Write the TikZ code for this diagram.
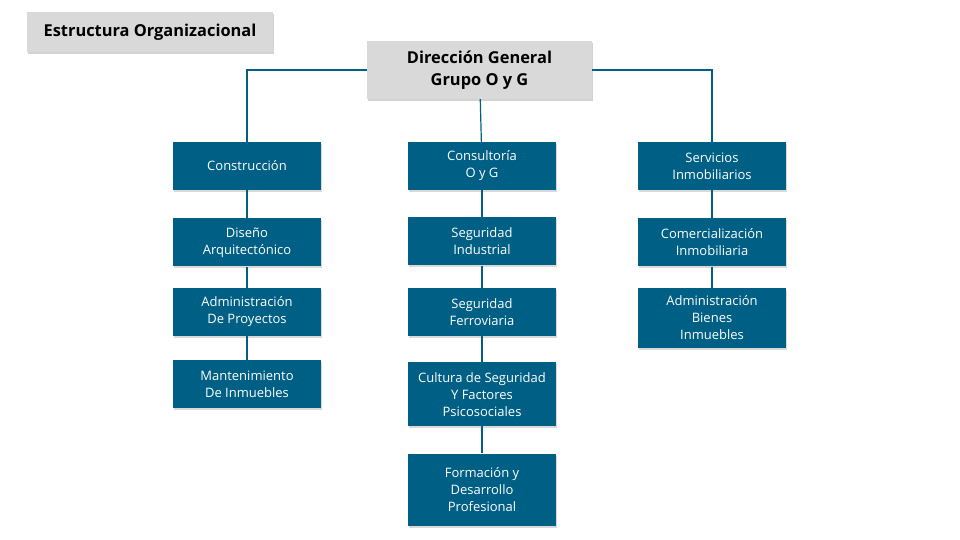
\documentclass[tikz,border=0pt]{standalone}
\usepackage{fontspec}
\setmainfont{Open Sans}
\usetikzlibrary{positioning, shadows}
\definecolor{unitblue}{RGB}{0,95,133}
\definecolor{headgray}{RGB}{217,217,217}

\begin{document}
\begin{tikzpicture}[x=1pt, y=1pt, node distance=24pt]
        \tikzstyle{header} = [rectangle, fill=headgray, text=black, align=center, font=\fontsize{16.4}{22}\selectfont\bfseries, drop shadow={shadow xshift=1pt, shadow yshift=-2pt, opacity=0.35}]
        \tikzstyle{unit} = [rectangle, minimum width=148pt, minimum height=48pt, text centered, align=center, fill=unitblue, text=white, font=\fontsize{13}{17}\selectfont, drop shadow={shadow xshift=1pt, shadow yshift=-2pt, opacity=0.3}]
        \tikzstyle{line} = [draw=unitblue, line width=1.2pt]

        \useasboundingbox (0,0) rectangle (960,-540);

        % Nodes
        \node (title) [header, minimum width=246pt, minimum height=40pt] at (150,-32) {Estructura Organizacional};
        \node (dir) [header, minimum width=225pt, minimum height=58pt] at (479.5,-70) {Dirección General\\Grupo O y G};

        % Construccion
        \node (con) [unit] at (247,-166) {Construcción};
        \node (dis) [unit, below=28pt of con] {Diseño\\Arquitectónico};
        \node (adp) [unit, below=21pt of dis] {Administración\\De Proyectos};
        \node (man) [unit, below=24pt of adp] {Mantenimiento\\De Inmuebles};

        % Consultoria
        \node (cons) [unit] at (482,-166) {Consultoría\\O y G};
        \node (sind) [unit, below=27pt of cons] {Seguridad\\Industrial};
        \node (sfer) [unit, below=22pt of sind] {Seguridad\\Ferroviaria};
        \node (cult) [unit, below=26pt of sfer, minimum height=64pt] {Cultura de Seguridad\\Y Factores\\Psicosociales};
        \node (form) [unit, below=27pt of cult, minimum height=72pt] {Formación y\\Desarrollo\\Profesional};

        % Servicios
        \node (serv) [unit] at (712,-166) {Servicios\\Inmobiliarios};
        \node (comi) [unit, below=28pt of serv] {Comercialización\\Inmobiliaria};
        \node (abin) [unit, below=21pt of comi, minimum height=60pt] {Administración\\Bienes\\Inmuebles};

        % Lines
        \draw [line] (dir.west) -| (con.north);
        \draw [line] (dir.east) -| (serv.north);
        \draw [line] (dir) -- (cons);
        \draw [line] (con) -- (dis);
        \draw [line] (dis) -- (adp);
        \draw [line] (adp) -- (man);
        \draw [line] (cons) -- (sind);
        \draw [line] (sind) -- (sfer);
        \draw [line] (sfer) -- (cult);
        \draw [line] (cult) -- (form);
        \draw [line] (serv) -- (comi);
        \draw [line] (comi) -- (abin);
\end{tikzpicture}
\end{document}
